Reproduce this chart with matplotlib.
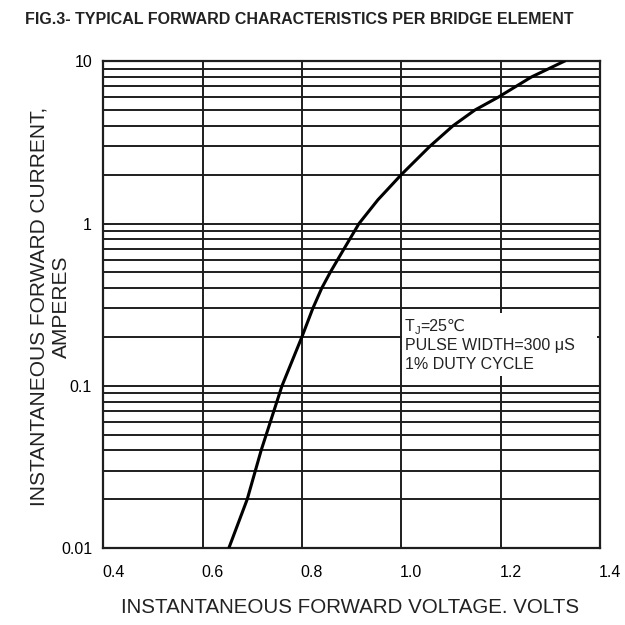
import matplotlib
matplotlib.use("Agg")
import matplotlib.pyplot as plt
from matplotlib.ticker import LogLocator, NullFormatter, FixedLocator
from matplotlib.patches import Rectangle
import matplotlib.transforms as mtransforms

# Data
voltage = [0.653, 0.690, 0.718, 0.760, 0.800, 0.822, 0.840, 0.857, 0.885, 0.915,
           0.953, 1.000, 1.058, 1.104, 1.148, 1.195, 1.262, 1.328]
current = [0.01, 0.02, 0.04, 0.1, 0.2, 0.3, 0.4, 0.5, 0.7, 1.0,
           1.4, 2.0, 3.0, 4.0, 5.0, 6.0, 8.0, 10.0]

x_ticks = [0.4, 0.6, 0.8, 1.0, 1.2, 1.4]
x_tick_labels = ["0.4", "0.6", "0.8", "1.0", "1.2", "1.4"]
y_ticks = [0.01, 0.1, 1, 10]
y_tick_labels = ["0.01", "0.1", "1", "10"]

title = "FIG.3- TYPICAL FORWARD CHARACTERISTICS PER BRIDGE ELEMENT"
xlabel = "INSTANTANEOUS FORWARD VOLTAGE. VOLTS"
ylabel = "INSTANTANEOUS FORWARD CURRENT,\nAMPERES"
note_t, note_sub, note_rest = "T", "J", "=25\u2103"
note_lines = ["PULSE WIDTH=300 \u03bcS", "1% DUTY CYCLE"]

narrow = ["Liberation Sans Narrow", "Liberation Sans", "DejaVu Sans"]
regular = ["Liberation Sans", "DejaVu Sans"]

fig = plt.figure(figsize=(6.25, 6.25), dpi=100)
ax = fig.add_axes([0.165, 0.123, 0.795, 0.779])

ax.set_yscale("log")
ax.set_xlim(0.4, 1.4)
ax.set_ylim(0.01, 10)

gc = "#1e1e1e"
ax.xaxis.set_major_locator(FixedLocator(x_ticks))
ax.yaxis.set_major_locator(FixedLocator(y_ticks))
ax.yaxis.set_minor_locator(LogLocator(base=10, subs=range(2, 10)))
ax.yaxis.set_minor_formatter(NullFormatter())
ax.grid(True, which="both", axis="y", color=gc, lw=1.4)
ax.grid(True, which="major", axis="x", color=gc, lw=1.4)
ax.tick_params(which="both", length=0)

ax.set_xticklabels(x_tick_labels, fontsize=11.5, family=narrow)
ax.set_yticklabels(y_tick_labels, fontsize=11.5, family=narrow)
ax.tick_params(axis="x", pad=12)
ax.tick_params(axis="y", pad=8)
offset = mtransforms.ScaledTranslation(0.10, 0, fig.dpi_scale_trans)
for lab in ax.get_xticklabels():
    lab.set_transform(lab.get_transform() + offset)

for s in ax.spines.values():
    s.set_linewidth(1.6)
    s.set_color(gc)

ax.plot(voltage, current, color="black", lw=2.2, zorder=4,
        solid_joinstyle="round")

# white note box
ax.add_patch(Rectangle((0.602, 0.353), 0.392, 0.13, transform=ax.transAxes,
                       facecolor="white", edgecolor="none", zorder=2.5))
fs_note = 11.5
x0, y0 = 0.607, 0.446
tc = "#222"
ax.annotate(note_t, xy=(x0, y0), xycoords="axes fraction", fontsize=fs_note,
            family=regular, color=tc, va="baseline", ha="left", zorder=3)
ax.annotate(note_sub, xy=(x0, y0), xycoords="axes fraction", xytext=(7.0, -2.5),
            textcoords="offset points", fontsize=8, family=regular, color=tc,
            va="baseline", ha="left", zorder=3)
ax.annotate(note_rest, xy=(x0, y0), xycoords="axes fraction", xytext=(11.0, 0),
            textcoords="offset points", fontsize=fs_note, family=regular, color=tc,
            va="baseline", ha="left", zorder=3)
for i, line in enumerate(note_lines):
    ax.text(x0, y0 - (i + 1) * 0.039, line, transform=ax.transAxes,
            fontsize=fs_note, family=regular, color=tc, va="baseline", ha="left", zorder=3)

fig.text(0.04, 0.968, title, fontsize=11.5, family=narrow, weight="bold",
         color="#222", ha="left", va="center")
fig.text(0.56, 0.028, xlabel, fontsize=14.8, family=regular, color="#222",
         ha="center", va="center")
fig.text(0.08, 0.51, ylabel, fontsize=15, family=regular, color="#222",
         ha="center", va="center", rotation=90, multialignment="center")

fig.savefig("out.png", dpi=100, facecolor="white")
